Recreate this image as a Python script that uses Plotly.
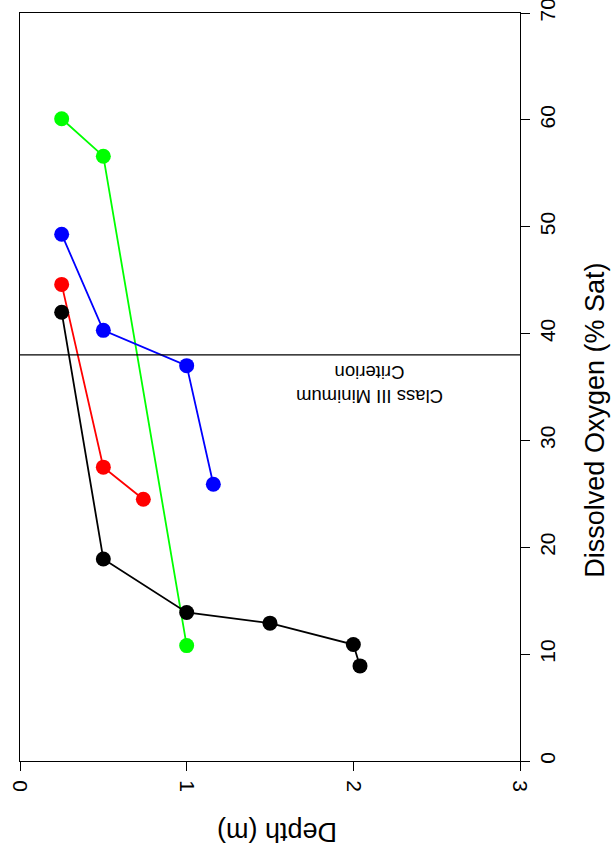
import plotly.graph_objects as go

# Depth (m) and Dissolved Oxygen (% Sat) per series
green_depth = [0.25, 0.5, 1.0]
green_do = [60.1, 56.6, 10.8]
red_depth = [0.25, 0.5, 0.74]
red_do = [44.6, 27.5, 24.5]
blue_depth = [0.25, 0.5, 1.0, 1.16]
blue_do = [49.3, 40.3, 37.0, 25.9]
black_depth = [0.25, 0.5, 1.0, 1.5, 2.0, 2.04]
black_do = [42.0, 18.9, 13.9, 12.9, 10.9, 8.9]
criterion = 38.0

x_ticks = [0, 1, 2, 3]
y_ticks = [0, 10, 20, 30, 40, 50, 60, 70]

series = [
    (green_depth, green_do, "#00FF00"),
    (red_depth, red_do, "#FF0000"),
    (blue_depth, blue_do, "#0000FF"),
    (black_depth, black_do, "#000000"),
]

fig = go.Figure()
for xs, ys, col in series:
    fig.add_trace(go.Scatter(
        x=xs, y=ys, mode="lines+markers",
        line=dict(color=col, width=1.8),
        marker=dict(color=col, size=15, line=dict(width=0)),
        showlegend=False, cliponaxis=False,
    ))

fig.add_shape(type="line", xref="paper", yref="y", x0=0, x1=1, y0=criterion, y1=criterion,
              line=dict(color="black", width=1.3))

font = "Liberation Sans, Arial, sans-serif"
fig.add_annotation(xref="x", yref="y", x=2.1, y=35.3, text="Class III Minimum<br>Criterion",
                   textangle=180, showarrow=False, font=dict(family=font, size=18.5, color="black"))
fig.add_annotation(xref="paper", yref="paper", x=0.515, y=-0.094, text="Depth (m)",
                   textangle=180, showarrow=False, font=dict(family=font, size=27, color="black"),
                   xanchor="center", yanchor="middle")
fig.add_annotation(xref="paper", yref="paper", x=1.15, y=0.455, text="Dissolved Oxygen (% Sat)",
                   textangle=-90, showarrow=False, font=dict(family=font, size=27, color="black"),
                   xanchor="center", yanchor="middle")

fig.update_layout(
    width=614, height=864,
    margin=dict(l=20, r=94, t=13, b=103, autoexpand=False),
    plot_bgcolor="white", paper_bgcolor="white",
    font=dict(family=font, color="black"),
    xaxis=dict(range=[0, 3], tickvals=x_ticks, ticks="outside", ticklen=9, tickwidth=1.3,
               tickcolor="black", showline=True, linecolor="black", linewidth=1.3, mirror=True,
               showgrid=False, zeroline=False, tickangle=90, tickfont=dict(size=21),
               ticklabeloverflow="allow", automargin=False, ticklabelstandoff=5),
    yaxis=dict(range=[0, 70], tickvals=y_ticks, side="right", ticks="outside", ticklen=9,
               tickwidth=1.3, tickcolor="black", showline=True, linecolor="black", linewidth=1.3,
               mirror=True, showgrid=False, zeroline=False, tickangle=-90, tickfont=dict(size=21),
               ticklabeloverflow="allow", automargin=False),
)

fig.write_html("out.html", config={"displayModeBar": False},
               post_script="document.body.style.margin='0px';document.body.style.overflow='hidden';")
